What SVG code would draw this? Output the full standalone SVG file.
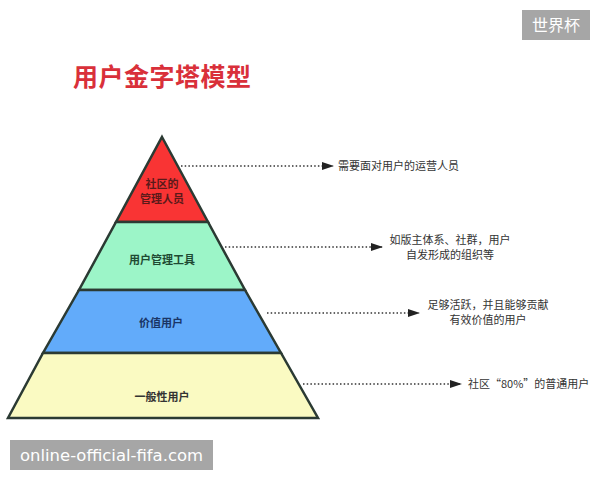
<svg xmlns="http://www.w3.org/2000/svg" width="600" height="480" viewBox="0 0 600 480">
<style>
.lvl{stroke:#2b3a33;stroke-width:2.5;stroke-linejoin:miter}
.lbl{font-family:"Noto Sans CJK SC","Noto Sans",sans-serif;font-size:11px;font-weight:bold;text-anchor:middle}
.note{font-family:"Noto Sans CJK SC","Noto Sans",sans-serif;font-size:11px;fill:#333}
.con{stroke:#333;stroke-width:1.5;stroke-dasharray:1.5 2.2;fill:none}
.wm{fill:#a6a6a6}
.wmt{fill:#fff}
</style>
<defs>
<marker id="ah" markerWidth="12" markerHeight="8" refX="11" refY="4" orient="auto" markerUnits="userSpaceOnUse">
<path d="M0,0 L12,4 L0,8 z" fill="#222"/>
</marker>
</defs>
<rect width="600" height="480" fill="#fff"/>
<text x="73" y="86" font-family="Noto Sans CJK SC,sans-serif" font-size="25" font-weight="bold" fill="#d9303a" textLength="178">用户金字塔模型</text>
<g id="top">
<polygon class="lvl" points="162,137 208,222 116,222" fill="#f93434"/>
<text class="lbl" x="162" y="188" font-size="10.5" fill="#5a1a1a">社区的</text>
<text class="lbl" x="162" y="203" font-size="10.5" fill="#5a1a1a">管理人员</text>
</g>
<g id="tools">
<polygon class="lvl" points="116,222 208,222 245,290 79,290" fill="#9cf5c8"/>
<text class="lbl" x="162" y="264" fill="#1f4a33">用户管理工具</text>
</g>
<g id="value">
<polygon class="lvl" points="79,290 245,290 281,353 43,353" fill="#62abfa"/>
<text class="lbl" x="161" y="327" fill="#1a3566">价值用户</text>
</g>
<g id="general">
<polygon class="lvl" points="43,353 281,353 318,418 8,418" fill="#fafac2"/>
<text class="lbl" x="162" y="401" fill="#333">一般性用户</text>
</g>
<g id="connectors">
<line class="con" x1="181" y1="166" x2="333" y2="166" marker-end="url(#ah)"/>
<line class="con" x1="225" y1="247" x2="382" y2="247" marker-end="url(#ah)"/>
<line class="con" x1="267" y1="313" x2="419" y2="313" marker-end="url(#ah)"/>
<line class="con" x1="303" y1="384" x2="461" y2="384" marker-end="url(#ah)"/>
</g>
<g id="notes">
<text class="note" x="338" y="170">需要面对用户的运营人员</text>
<text class="note" x="450" y="244" text-anchor="middle">如版主体系、社群，用户</text>
<text class="note" x="450" y="259" text-anchor="middle">自发形成的组织等</text>
<text class="note" x="488" y="309" text-anchor="middle">足够活跃，并且能够贡献</text>
<text class="note" x="488" y="324" text-anchor="middle">有效价值的用户</text>
<text class="note" x="468" y="388">社区“80%”的普通用户</text>
</g>
<g id="watermarks">
<rect class="wm" x="522" y="10" width="68" height="30"/>
<text class="wmt" x="556" y="31" font-size="16" font-family="Noto Sans CJK SC,sans-serif" text-anchor="middle">世界杯</text>
<rect class="wm" x="10" y="440" width="203" height="30"/>
<text class="wmt" x="20" y="461" font-size="16" font-family="DejaVu Sans,sans-serif" textLength="183" lengthAdjust="spacingAndGlyphs">online-official-fifa.com</text>
</g>
</svg>
